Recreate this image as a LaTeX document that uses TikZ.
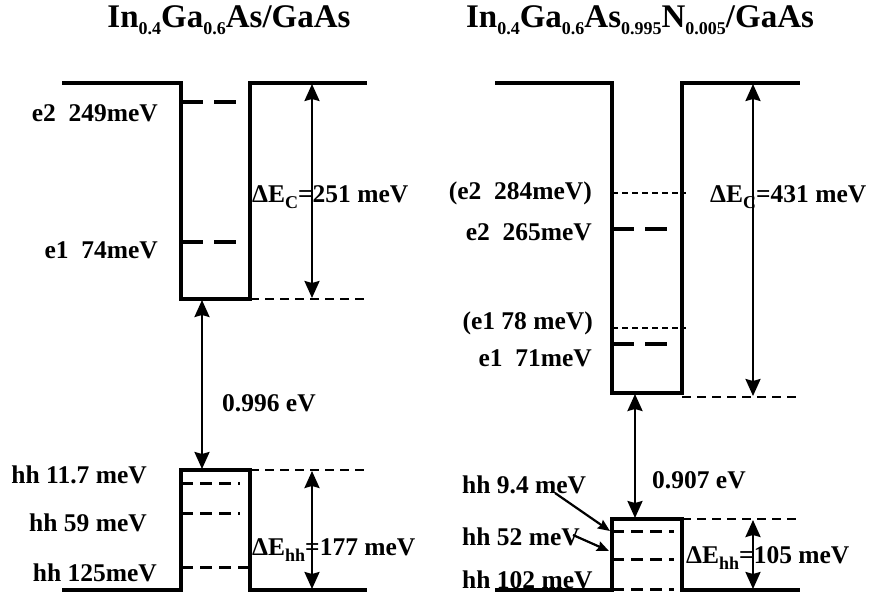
\documentclass[tikz,border=0pt]{standalone}
\usepackage{fontspec}
\setmainfont{Liberation Serif}
\usetikzlibrary{arrows.meta, positioning}

\newcommand{\sub}[1]{\raisebox{-0.22em}{\fontsize{18}{18}\selectfont #1}}

\begin{document}
\begin{tikzpicture}[x=1pt, y=-1pt,
  band/.style={line width=3.4pt, line join=miter},
  elevel/.style={line width=3.6pt, dash pattern=on 22pt off 11pt},
  hlevel/.style={line width=3pt, dash pattern=on 12pt off 7pt},
  calcl/.style={line width=1.4pt, dash pattern=on 6pt off 4pt},
  guide/.style={line width=1.8pt, dash pattern=on 9pt off 6pt},
  arrow/.style={line width=2.4pt, {Stealth[length=17pt,width=15pt,inset=2pt]}-{Stealth[length=17pt,width=15pt,inset=2pt]}},
  pointer/.style={line width=2.2pt, -{Stealth[length=12pt,width=10pt,inset=1.5pt]}},
  lbl/.style={font=\fontsize{25.5}{27}\selectfont\bfseries, inner sep=0pt},
  ttl/.style={font=\fontsize{33}{35}\selectfont\bfseries, inner sep=0pt}
]
\useasboundingbox (0,0) rectangle (870,597);

% ---------- InGaAs/GaAs ----------
\node[ttl] (titleA) at (229,20) {In\sub{0.4}Ga\sub{0.6}As/GaAs};

% conduction band well
\draw[band] (62,83) -- (181,83) -- (181,299) -- (250,299) -- (250,83) -- (367,83);
\draw[guide] (250,299) -- (367,299);
\draw[elevel] (181,102) -- (244,102);
\draw[elevel] (181,242) -- (244,242);
\node[lbl, anchor=east] (e2A) at (158,113) {e2~~249meV};
\node[lbl, anchor=east] (e1A) at (158,250) {e1~~74meV};

% valence band barrier
\draw[band] (62,590) -- (181,590) -- (181,470) -- (250,470) -- (250,590) -- (367,590);
\draw[guide] (250,470) -- (367,470);
\draw[hlevel] (181,483) -- (240,483);
\draw[hlevel] (181,513) -- (240,513);
\draw[hlevel] (181,567) -- (248,567);
\node[lbl, anchor=east] (hh1A) at (147,475) {hh 11.7 meV};
\node[lbl, anchor=east] (hh2A) at (147,523) {hh 59 meV};
\node[lbl, anchor=east] (hh3A) at (157,573) {hh 125meV};

% offsets and gap
\coordinate (cbtopA) at (312,84);
\coordinate (cbbotA) at (312,298);
\coordinate (vbtopA) at (312,471);
\coordinate (vbbotA) at (312,589);
\coordinate (gapupA) at (202,300);
\coordinate (gapdnA) at (202,469);
\draw[arrow] (cbtopA) -- (cbbotA);
\draw[arrow] (vbtopA) -- (vbbotA);
\draw[arrow] (gapupA) -- (gapdnA);
\node[lbl, anchor=west] (dEcA) at (252,197) {ΔE\sub{C}=251 meV};
\node[lbl, anchor=west] (dEhA) at (252,550) {ΔE\sub{hh}=177 meV};
\node[lbl, anchor=west] (gapA) at (222,403) {0.996 eV};

% ---------- InGaAsN/GaAs ----------
\node[ttl] (titleB) at (640,20) {In\sub{0.4}Ga\sub{0.6}As\sub{0.995}N\sub{0.005}/GaAs};

% conduction band well
\draw[band] (495,83) -- (612,83) -- (612,393) -- (682,393) -- (682,83) -- (800,83);
\draw[guide] (682,397) -- (800,397);
\draw[calcl] (612,193) -- (686,193);
\draw[calcl] (612,328) -- (686,328);
\draw[elevel] (612,229) -- (676,229);
\draw[elevel] (612,344) -- (676,344);
\node[lbl, anchor=east] (e2calcB) at (592,193) {(e2~~284meV)};
\node[lbl, anchor=east] (e2B) at (592,232) {e2~~265meV};
\node[lbl, anchor=east] (e1calcB) at (593,323) {(e1 78 meV)};
\node[lbl, anchor=east] (e1B) at (592,358) {e1~~71meV};

% valence band barrier
\draw[band] (495,590) -- (612,590) -- (612,519) -- (682,519) -- (682,590) -- (800,590);
\draw[guide] (682,519) -- (800,519);
\draw[hlevel] (612,531) -- (674,531);
\draw[hlevel] (612,559) -- (674,559);
\draw[hlevel] (612,589) -- (674,589);
\node[lbl, anchor=west] (hh1B) at (462,485) {hh 9.4 meV};
\node[lbl, anchor=west] (hh2B) at (462,537) {hh 52 meV};
\node[lbl, anchor=west] (hh3B) at (462,580) {hh 102 meV};
\coordinate (hh1tail) at (555,493);
\coordinate (hh1tip) at (610,531);
\coordinate (hh2tail) at (573,535);
\coordinate (hh2tip) at (609,551);
\draw[pointer] (hh1tail) -- (hh1tip);
\draw[pointer] (hh2tail) -- (hh2tip);

% offsets and gap
\coordinate (cbtopB) at (753,84);
\coordinate (cbbotB) at (753,396);
\coordinate (vbtopB) at (753,520);
\coordinate (vbbotB) at (753,589);
\coordinate (gapupB) at (635,394);
\coordinate (gapdnB) at (635,518);
\draw[arrow] (cbtopB) -- (cbbotB);
\draw[arrow] (vbtopB) -- (vbbotB);
\draw[arrow] (gapupB) -- (gapdnB);
\node[lbl, anchor=west] (dEcB) at (710,197) {ΔE\sub{C}=431 meV};
\node[lbl, anchor=west] (dEhB) at (686,558) {ΔE\sub{hh}=105 meV};
\node[lbl, anchor=west] (gapB) at (652,480) {0.907 eV};
\end{tikzpicture}
\end{document}
